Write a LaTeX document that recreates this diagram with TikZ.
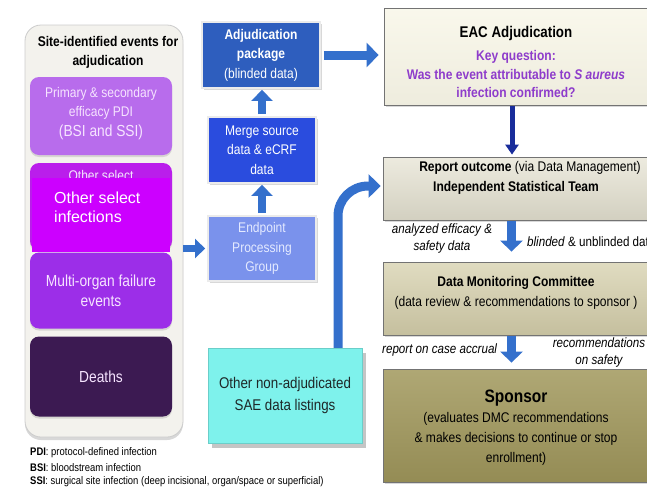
\documentclass[tikz,border=0pt]{standalone}
\usepackage{fontspec}
\setmainfont{Liberation Sans}[FakeStretch=0.86]
\newfontfamily\plainarial{Liberation Sans}
\usetikzlibrary{arrows.meta,shadows}
\definecolor{panelfill}{RGB}{243,242,237}
\definecolor{cA}{RGB}{184,108,236}
\definecolor{cB}{RGB}{186,30,235}
\definecolor{cBover}{RGB}{204,0,255}
\definecolor{cC}{RGB}{156,46,232}
\definecolor{cD}{RGB}{60,26,82}
\definecolor{adjc}{RGB}{46,94,190}
\definecolor{mergec}{RGB}{42,76,222}
\definecolor{epc}{RGB}{122,146,236}
\definecolor{eacc}{RGB}{248,246,231}
\definecolor{repc}{RGB}{229,226,209}
\definecolor{dmcc}{RGB}{214,208,172}
\definecolor{spc}{RGB}{161,152,92}
\definecolor{cyanc}{RGB}{126,242,236}
\definecolor{arrowc}{RGB}{52,112,204}
\definecolor{darkarrow}{RGB}{25,45,155}
\definecolor{purptext}{RGB}{142,60,203}
\definecolor{lighttext}{RGB}{246,228,255}
\definecolor{eptext}{RGB}{228,234,255}
\definecolor{darktext}{RGB}{30,40,40}
\begin{document}
\begin{tikzpicture}[x=1pt,y=-1pt,
  every node/.style={inner sep=0pt, align=center},
  font=\fontsize{14}{19.5}\selectfont,
  panelbox/.style={rounded corners=16pt, fill=panelfill, draw=black!20, line width=0.8pt,
    drop shadow={opacity=0.3, shadow xshift=0pt, shadow yshift=-3pt}},
  pbox/.style={rounded corners=9pt, draw=none, text=lighttext,
    drop shadow={opacity=0.25, shadow xshift=0pt, shadow yshift=-2pt}},
  mbox/.style={draw=black!8, line width=1.8pt, text=white,
    drop shadow={opacity=0.3, shadow xshift=1.5pt, shadow yshift=-1.5pt}},
  rbox/.style={draw=black!55, line width=0.8pt,
    drop shadow={opacity=0.3, shadow xshift=1.5pt, shadow yshift=-1.5pt}},
  barrow/.style={draw=arrowc, line width=8pt, -{Triangle[width=21pt,length=11pt]}},
  darrow/.style={draw=darkarrow, line width=5pt, -{Triangle[width=13pt,length=10pt]}},
  lbl/.style={font=\fontsize{13.5}{17}\selectfont\itshape},
  legend/.style={anchor=west, font=\fontsize{11}{13}\selectfont}
]
\useasboundingbox (0,0) rectangle (647,490);
\fill[white] (0,0) rectangle (647,490);
\clip (0,0) rectangle (647,490);

% left panel
\node[panelbox, minimum width=158pt, minimum height=412pt] (panel) at (104,231) {};
\node[font=\fontsize{14}{19.5}\selectfont\bfseries] (ptitle) at (108,52.5) {Site-identified events for\\adjudication};

\node[pbox, fill=cA, minimum width=142pt, minimum height=78pt] (b1) at (101,116) {};
\node[text=lighttext] (b1t) at (101,113.5) {Primary \& secondary\\efficacy PDI\\{\fontsize{16}{19.5}\selectfont (BSI and SSI)}};

\node[pbox, fill=cB, minimum width=142pt, minimum height=87pt] (b2) at (101,206.5) {};
\node[text=lighttext] (b2t) at (101,175) {Other select};
\node[fill=cBover, minimum width=138pt, minimum height=74pt] (b2o) at (101,215) {};
\node[anchor=west, align=left, text=white, font=\plainarial\fontsize{16}{19}\selectfont] (b2ot) at (54,207.5) {Other select\\infections};

\node[pbox, fill=cC, minimum width=142pt, minimum height=76pt, font=\fontsize{16}{20}\selectfont] (b3) at (101,290.5) {Multi-organ failure\\events};
\node[pbox, fill=cD, minimum width=142pt, minimum height=80pt, font=\fontsize{16}{20}\selectfont] (b4) at (101,376.5) {Deaths};

% legend
\node[legend] (lg1) at (30,453) {\textbf{PDI}: protocol-defined infection};
\node[legend] (lg2) at (30,467.5) {\textbf{BSI}: bloodstream infection};
\node[legend] (lg3) at (30,482) {\textbf{SSI}: surgical site infection (deep incisional, organ/space or superficial)};

% middle column
\node[mbox, fill=adjc, minimum width=118pt, minimum height=66pt] (adj) at (261,55) {\textbf{Adjudication}\\\textbf{package}\\(blinded data)};
\node[mbox, fill=mergec, minimum width=108pt, minimum height=66pt] (merge) at (262,150) {Merge source\\data \& eCRF\\data};
\node[mbox, fill=epc, text=eptext, minimum width=108pt, minimum height=65pt] (ep) at (262,248.5) {Endpoint\\Processing\\Group};

% right column
\node[rbox, top color=eacc!80!white, bottom color=eacc!96!black, minimum width=268pt, minimum height=97pt] (eac) at (518,56.5) {};
\node[font=\fontsize{15.5}{19}\selectfont\bfseries] (eac1) at (516,33) {EAC Adjudication};
\node[text=purptext, font=\fontsize{14}{18}\selectfont\bfseries] (eac2) at (516,56.5) {Key question:};
\node[text=purptext, font=\fontsize{14}{18}\selectfont\bfseries] (eac3) at (516,74) {Was the event attributable to \textit{S aureus}};
\node[text=purptext, font=\fontsize{14}{18}\selectfont\bfseries] (eac4) at (516,92.5) {infection confirmed?};

\node[rbox, top color=repc!70!white, bottom color=repc!92!black, minimum width=269pt, minimum height=63pt] (rep) at (517.5,188.5) {};
\node (rep1) at (530,168) {\textbf{Report outcome} (via Data Management)};
\node[font=\fontsize{14}{18}\selectfont\bfseries] (rep2) at (516,188) {Independent Statistical Team};

\node[rbox, top color=dmcc!75!white, bottom color=dmcc!92!black, minimum width=269pt, minimum height=73pt] (dmc) at (517.5,298.5) {};
\node[font=\fontsize{14}{18}\selectfont\bfseries] (dmc1) at (516,283) {Data Monitoring Committee};
\node (dmc2) at (516,303) {(data review \& recommendations to sponsor )};

\node[rbox, top color=spc!85!white, bottom color=spc!92!black, minimum width=269pt, minimum height=113pt] (sp) at (517.5,425.5) {};
\node[font=\fontsize{18}{20}\selectfont\bfseries] (sp1) at (516,398) {Sponsor};
\node[font=\fontsize{14}{20}\selectfont] (sp2) at (516,438.5) {(evaluates DMC recommendations\\\& makes decisions to continue or stop\\enrollment)};

% labels
\node[lbl] (l1) at (442,239) {analyzed efficacy \&\\safety data};
\node[anchor=west, font=\fontsize{13.5}{17}\selectfont] (l2) at (527,242) {\textit{blinded} \& unblinded data};
\node[lbl, anchor=west] (l3) at (382,350) {report on case accrual};
\node[lbl] (l4) at (599,352.5) {recommendations\\on safety};

% curved arrow and other box
\draw[barrow, line width=9pt, rounded corners=30pt, -{Triangle[width=23pt,length=12pt]}, shorten >=2pt]
  ([xshift=53pt]285,348) |- ([yshift=2.5pt]rep.west);
\node[fill=cyanc, draw=cyanc!85!black, line width=0.6pt, minimum width=154pt, minimum height=95pt,
  text=darktext, font=\fontsize{15.5}{22}\selectfont,
  drop shadow={opacity=0.45, shadow xshift=4pt, shadow yshift=-5pt}] (other) at (285,395.5)
  {Other non-adjudicated\\SAE data listings};

% arrows
\draw[barrow, line width=7pt, -{Triangle[width=19pt,length=10pt]}, shorten >=2pt] (ep.west -| panel.east) -- (ep.west);
\draw[barrow, shorten >=1pt, shorten <=2pt] (ep.north) -- (ep.north |- merge.south);
\draw[barrow, shorten >=1pt, shorten <=2pt] (merge.north) -- (merge.north |- adj.south);
\draw[barrow, line width=9pt, -{Triangle[width=24pt,length=12pt]}, shorten >=5pt, shorten <=3pt] (adj.east) -- (adj.east -| eac.west);
\draw[darrow, shorten >=2pt, shorten <=1pt] ([xshift=-6pt]eac.south) -- ([xshift=-6pt]eac.south |- rep.north);
\draw[barrow, line width=9pt, -{Triangle[width=22pt,length=11pt]}, shorten >=10pt, shorten <=1pt] ([xshift=-6pt]rep.south) -- ([xshift=-6pt]rep.south |- dmc.north);
\draw[barrow, line width=9pt, -{Triangle[width=22pt,length=11pt]}, shorten >=6pt, shorten <=1pt] ([xshift=-6pt]dmc.south) -- ([xshift=-6pt]dmc.south |- sp.north);
\end{tikzpicture}
\end{document}
